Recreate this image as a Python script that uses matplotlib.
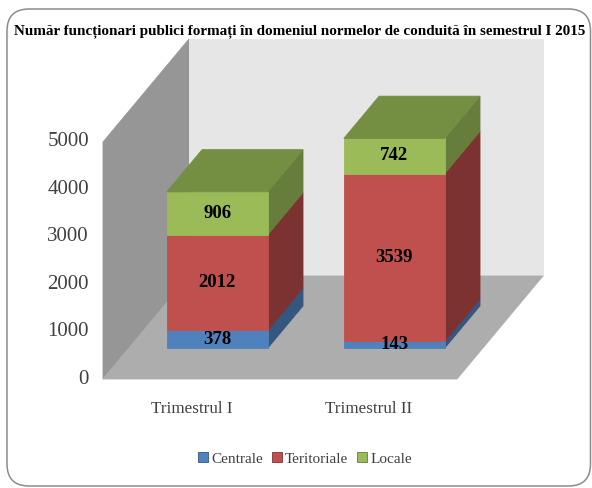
import matplotlib
matplotlib.use("Agg")
import matplotlib.pyplot as plt
from matplotlib.patches import FancyBboxPatch, Patch, Polygon

plt.rcParams['font.family'] = ['Liberation Serif', 'DejaVu Serif']

title = "Număr funcționari publici formați în domeniul normelor de conduită în semestrul I 2015"
categories = ["Trimestrul I", "Trimestrul II"]
series_names = ["Centrale", "Teritoriale", "Locale"]
centrale = [378, 143]
teritoriale = [2012, 3539]
locale = [906, 742]
y_ticks = [0, 1000, 2000, 3000, 4000, 5000]

front_colors = ["#4F81BD", "#C0504D", "#9BBB59"]
side_colors = ["#34567F", "#7B3230", "#667D3B"]
top_color = "#748E42"

# 3d box of the chart, in pixels of the picture
x0, y0 = 103, 379
floor_w = 354
depth_x, depth_y = 86, 103
px_per_unit = 237 / 5000
bar_w = 0.57
bar_d0, bar_d1 = 0.30, 0.71


def proj(x, d, v):
    # x in category units, d depth 0-1, v value
    return (x0 + x * floor_w / len(categories) + d * depth_x,
            y0 - d * depth_y - v * px_per_unit)


def face(ax, pts, color, z=2):
    ax.add_patch(Polygon([proj(*p) for p in pts], closed=True, facecolor=color,
                         edgecolor=color, linewidth=0.6, zorder=z))


fig = plt.figure(figsize=(5.92, 4.88), dpi=100)
ax = fig.add_axes([0, 0, 1, 1])
ax.set_xlim(0, 592)
ax.set_ylim(488, 0)
ax.axis("off")

ax.add_patch(FancyBboxPatch((7, 9), 583.5, 477, boxstyle="round,pad=0,rounding_size=22",
                            facecolor="white", edgecolor="#8C8C8C", linewidth=1.1, zorder=0))

# walls and floor
top_v = y_ticks[-1]
n = len(categories)
face(ax, [(0, 0, 0), (0, 1, 0), (0, 1, top_v), (0, 0, top_v)], "#969696", 1)
face(ax, [(0, 1, 0), (n, 1, 0), (n, 1, top_v), (0, 1, top_v)], "#E6E6E6", 1)
face(ax, [(0, 0, 0), (n, 0, 0), (n, 1, 0), (0, 1, 0)], "#ADADAD", 1)

for i, cat in enumerate(categories):
    xa = i + 0.5 - bar_w / 2
    xb = i + 0.5 + bar_w / 2
    base = 0
    for vals, fc, sc in zip([centrale, teritoriale, locale], front_colors, side_colors):
        v = vals[i]
        face(ax, [(xb, bar_d0, base), (xb, bar_d1, base), (xb, bar_d1, base + v), (xb, bar_d0, base + v)], sc)
        face(ax, [(xa, bar_d0, base), (xb, bar_d0, base), (xb, bar_d0, base + v), (xa, bar_d0, base + v)], fc, 3)
        lx, ly = proj(i + 0.5, bar_d0, base + v / 2)
        ax.text(lx, ly, str(v), ha="center", va="center", fontsize=13.5,
                fontweight="bold", color="black", zorder=5)
        base += v
    face(ax, [(xa, bar_d0, base), (xb, bar_d0, base), (xb, bar_d1, base), (xa, bar_d1, base)], top_color, 3)

    lx, ly = proj(i + 0.5, 0, 0)
    ax.text(lx, 409, cat, ha="center", va="center", fontsize=12.3, color="#404040")

for t in y_ticks:
    tx, ty = proj(0, 0, t)
    ax.text(89, ty, str(t), ha="right", va="center", fontsize=15, color="#404040")

ax.text(300, 31, title, ha="center", va="center", fontsize=10.9, fontweight="bold",
        color="black", zorder=6)

handles = [Patch(facecolor=c, edgecolor=s, linewidth=0.6) for c, s in zip(front_colors, side_colors)]
ax.legend(handles, series_names, loc="center", bbox_to_anchor=(305, 459),
          bbox_transform=ax.transData, ncol=3, frameon=False, fontsize=11,
          handlelength=0.65, handleheight=0.65, handletextpad=0.2, columnspacing=0.6,
          labelcolor="#404040")

fig.savefig("out.png", dpi=100)
